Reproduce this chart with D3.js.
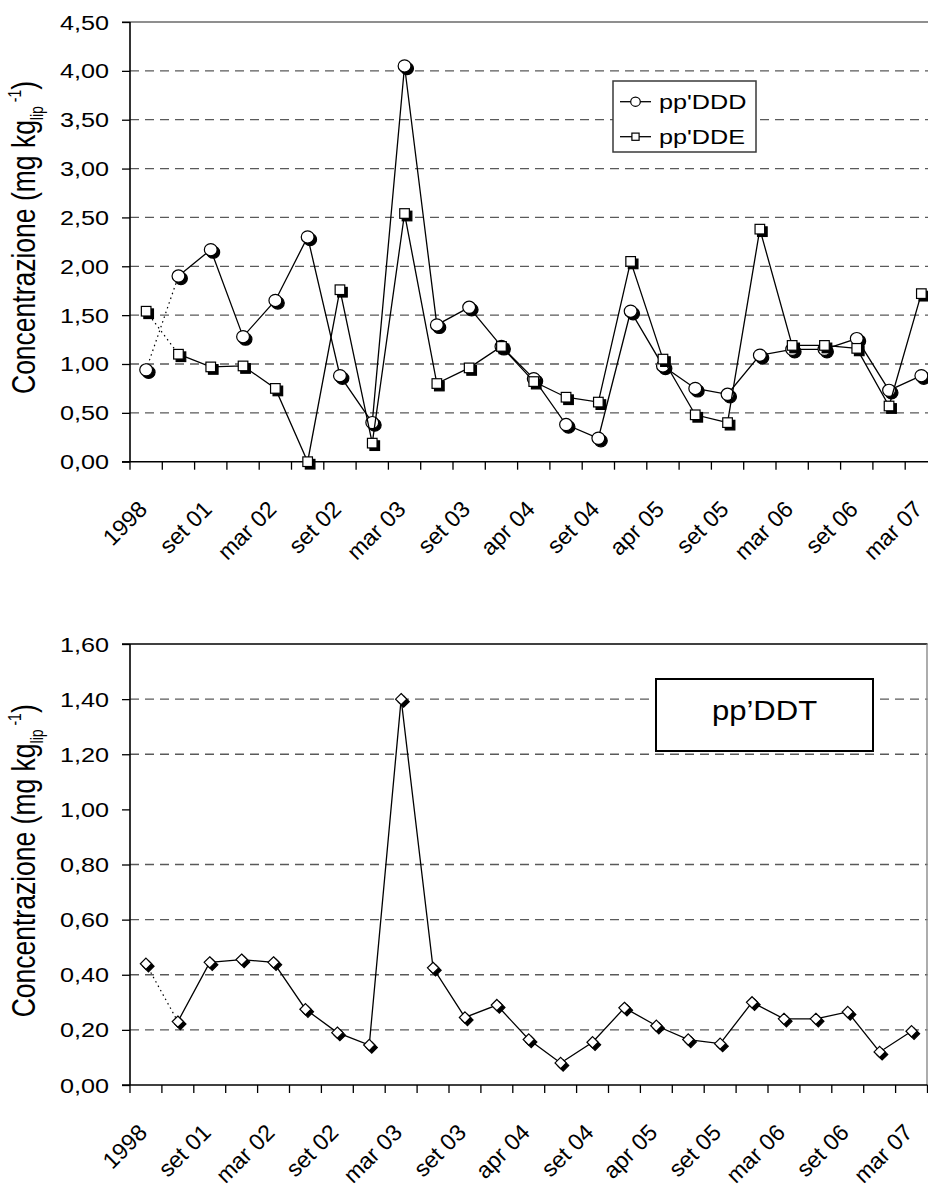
<!DOCTYPE html>
<html><head><meta charset="utf-8">
<script src="https://cdn.jsdelivr.net/npm/d3@7"></script>
<style>
body{margin:0;background:#fff}
svg{display:block}
text{font-family:"Liberation Sans",Arial,sans-serif;fill:#000}
</style>
</head><body>
<svg id="c" width="928" height="1187"></svg>
<script>
// ---------- data ----------
const categories = ["1998","","set 01","","mar 02","","set 02","","mar 03","","set 03","","apr 04","","set 04","","apr 05","","set 05","","mar 06","","set 06","","mar 07"];
const ppDDD = [0.94,1.90,2.17,1.28,1.65,2.30,0.88,0.40,4.05,1.40,1.58,1.18,0.85,0.38,0.24,1.54,0.98,0.75,0.69,1.09,1.15,1.15,1.26,0.73,0.88];
const ppDDE = [1.54,1.10,0.97,0.98,0.75,0.00,1.76,0.19,2.54,0.80,0.96,1.18,0.82,0.66,0.61,2.05,1.05,0.48,0.40,2.38,1.19,1.19,1.16,0.57,1.72];
const ppDDT = [0.44,0.23,0.445,0.455,0.445,0.275,0.19,0.145,1.40,0.425,0.245,0.29,0.165,0.08,0.155,0.28,0.215,0.165,0.15,0.30,0.24,0.24,0.265,0.12,0.195];
const yTicksTop = [0,0.5,1,1.5,2,2.5,3,3.5,4,4.5];
const yTicksBottom = [0,0.2,0.4,0.6,0.8,1.0,1.2,1.4,1.6];
const gridSkipBottom = [1.0];
const seriesTop = [{name:"pp'DDD", values:ppDDD, marker:"circle"},{name:"pp'DDE", values:ppDDE, marker:"square"}];
const seriesBottom = [{name:"pp’DDT", values:ppDDT, marker:"diamond"}];

// ---------- helpers ----------
const SX = 1.2;
const fmt = d3.formatLocale({decimal:",",thousands:".",grouping:[3],currency:["",""]}).format(".2f");
const svg = d3.select("#c");

function marker(g, type, x, y, shadow, s){
  s = s || 1;
  const draw = (sel, dx, dy, fill, stroke) => {
    if(type==="circle"){
      sel.append("ellipse").attr("cx",x+dx).attr("cy",y+dy).attr("rx",6.4*s).attr("ry",6.1*s)
        .attr("fill",fill).attr("stroke",stroke).attr("stroke-width",1.2);
    } else if(type==="square"){
      const h=4.8*s;
      sel.append("rect").attr("x",x+dx-h).attr("y",y+dy-h).attr("width",2*h).attr("height",2*h)
        .attr("fill",fill).attr("stroke",stroke).attr("stroke-width",1.2);
    } else {
      const h=5.6*s;
      sel.append("path").attr("d",`M${x+dx},${y+dy-h}L${x+dx+h},${y+dy}L${x+dx},${y+dy+h}L${x+dx-h},${y+dy}Z`)
        .attr("fill",fill).attr("stroke",stroke).attr("stroke-width",1.2);
    }
  };
  if(shadow) draw(g, 2.5, 2.5, "#000", "#000");
  draw(g, 0, 0, "#fff", "#000");
}

function stext(g, x, y, str, size, anchor, sx){
  return g.append("text")
    .attr("transform", `translate(${x},${y}) scale(${sx||SX},1)`)
    .attr("text-anchor", anchor||"start")
    .attr("font-size", size)
    .text(str);
}

function drawPanel(cfg){
  const g = svg.append("g");
  const x = d3.scaleBand().domain(d3.range(categories.length)).range([cfg.x0, cfg.x1]).padding(0);
  const y = d3.scaleLinear().domain([0, cfg.max]).range([cfg.yBot, cfg.yTop]);
  const cx = i => x(i) + x.bandwidth()/2;

  // gridlines
  cfg.ticks.forEach(t => {
    if(t===0 || t===cfg.max) return;
    if(cfg.skip && cfg.skip.includes(t)) return;
    g.append("line").attr("x1",cfg.x0).attr("x2",cfg.x1).attr("y1",y(t)).attr("y2",y(t))
      .attr("stroke","#5a5a5a").attr("stroke-width",1.3).attr("stroke-dasharray","9,6");
  });
  // top border
  g.append("line").attr("x1",cfg.x0-8).attr("x2",cfg.x1).attr("y1",y(cfg.max)).attr("y2",y(cfg.max))
    .attr("stroke",cfg.topColor).attr("stroke-width",1.3);
  if(cfg.rightBorder){
    g.append("line").attr("x1",cfg.x1-0.5).attr("x2",cfg.x1-0.5).attr("y1",y(cfg.max)).attr("y2",y(0))
      .attr("stroke","#808080").attr("stroke-width",1.3);
  }

  // y axis
  const ya = g.append("g").attr("transform",`translate(${cfg.x0},0)`)
    .call(d3.axisLeft(y).tickValues(cfg.ticks).tickSize(8).tickFormat(""));
  ya.select(".domain").remove();
  ya.selectAll("line").attr("stroke","#000").attr("stroke-width",1.3);
  g.append("line").attr("x1",cfg.x0).attr("x2",cfg.x0).attr("y1",y(cfg.max)).attr("y2",y(0))
    .attr("stroke","#000").attr("stroke-width",1.6);
  cfg.ticks.forEach(t => {
    stext(g, cfg.x0-21, y(t)+7.5, fmt(t), 21, "end");
  });

  // x axis
  g.append("line").attr("x1",cfg.x0-8).attr("x2",cfg.x1).attr("y1",y(0)).attr("y2",y(0))
    .attr("stroke","#000").attr("stroke-width",1.6);
  d3.range(categories.length+1).forEach(i => {
    const xx = cfg.x0 + i*x.step();
    g.append("line").attr("x1",xx).attr("x2",xx).attr("y1",y(0)).attr("y2",y(0)+8)
      .attr("stroke","#000").attr("stroke-width",1.3);
  });
  categories.forEach((c,i) => {
    if(!c) return;
    g.append("text")
      .attr("transform",`translate(${cx(i)+2.5},${y(0)+49}) rotate(-45)`)
      .attr("text-anchor","end").attr("font-size",23).text(c);
  });

  // y title (starts near bottom of plot, reads upward)
  const tt = g.append("text")
    .attr("transform",`translate(35,${cfg.yBot-67.7}) scale(1.25,1) rotate(-90)`)
    .attr("text-anchor","start").attr("font-size",26.5);
  tt.append("tspan").text("Concentrazione (mg kg");
  tt.append("tspan").attr("font-size",14).attr("dy",6).text("lip");
  tt.append("tspan").attr("font-size",14).attr("dy",-17).text(" -1");
  tt.append("tspan").attr("dy",11).text(")");

  // series
  cfg.series.forEach(s => {
    const pts = s.values.map((v,i)=>[cx(i), y(v)]);
    const line = d3.line();
    g.append("path").attr("d", line(pts.slice(0,2))).attr("fill","none")
      .attr("stroke","#000").attr("stroke-width",1.2).attr("stroke-dasharray","1.5,3.5");
    g.append("path").attr("d", line(pts.slice(1))).attr("fill","none")
      .attr("stroke","#000").attr("stroke-width",1.3);
    pts.forEach(p => marker(g, s.marker, p[0], p[1], true));
  });
  return g;
}

// ---------- top panel ----------
drawPanel({x0:130, x1:937.5, yTop:22, yBot:461.7, max:4.5, ticks:yTicksTop, series:seriesTop, topColor:"#6a6a6a", rightBorder:false});
{
  const lg = svg.append("g");
  lg.append("rect").attr("x",613).attr("y",81).attr("width",143).attr("height",71)
    .attr("fill","#fff").attr("stroke","#3a3a3a").attr("stroke-width",1.5);
  seriesTop.forEach((s,i) => {
    const yy = 101.7 + i*35;
    lg.append("line").attr("x1",620).attr("x2",651).attr("y1",yy).attr("y2",yy).attr("stroke","#000").attr("stroke-width",1.3);
    marker(lg, s.marker, 635.5, yy, false, 0.75);
    stext(lg, 659, yy+7.5, s.name, 21, "start");
  });
}

// ---------- bottom panel ----------
drawPanel({x0:130, x1:927.5, yTop:644, yBot:1085, max:1.6, ticks:yTicksBottom, skip:gridSkipBottom, series:seriesBottom, topColor:"#000", rightBorder:true});
{
  const lg = svg.append("g");
  lg.append("rect").attr("x",656).attr("y",679).attr("width",217).attr("height",72)
    .attr("fill","#fff").attr("stroke","#000").attr("stroke-width",2);
  stext(lg, 764.5, 720, seriesBottom[0].name, 27, "middle", 1.15);
}
</script>
</body></html>
